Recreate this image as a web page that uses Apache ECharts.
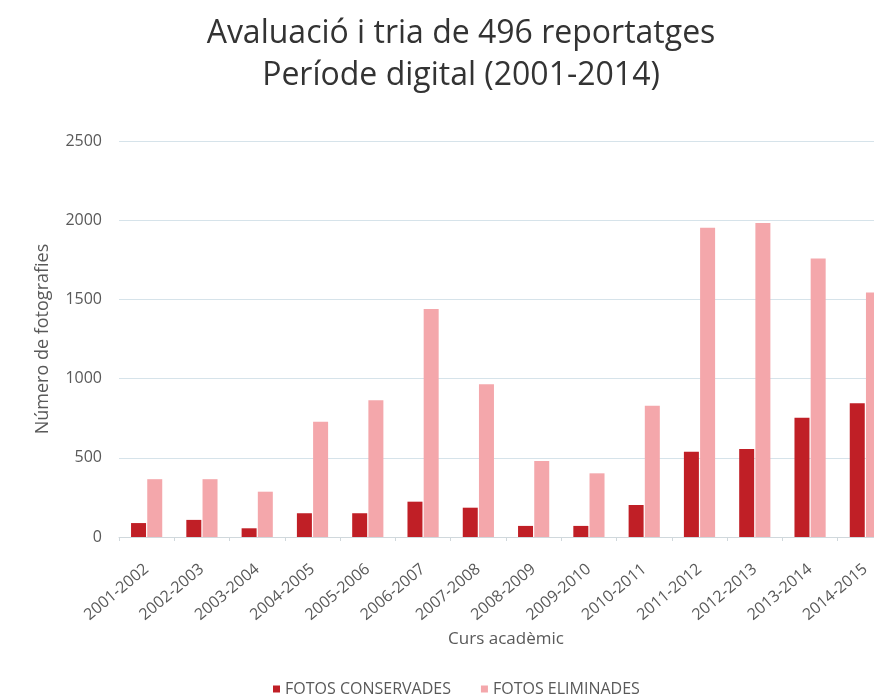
<!DOCTYPE html>
<html>
<head>
<meta charset="utf-8">
<title>Avaluació i tria de 496 reportatges</title>
<script src="https://cdn.jsdelivr.net/npm/echarts@6/dist/echarts.min.js"></script>
<style>
  html, body { margin: 0; padding: 0; background: #fff; width: 874px; height: 699px; overflow: hidden; }
  /* el gràfic original continua una mica per la dreta: el contenidor és més ample i es retalla */
  #chart { width: 894px; height: 699px; }
</style>
</head>
<body>
<div id="chart"></div>
<script>
// curs acadèmic
var cursos = ['2001-2002', '2002-2003', '2003-2004', '2004-2005', '2005-2006', '2006-2007', '2007-2008',
  '2008-2009', '2009-2010', '2010-2011', '2011-2012', '2012-2013', '2013-2014', '2014-2015']
// valors llegits del gràfic
var fotosConservades = [88, 108, 55, 150, 150, 223, 185, 70, 70, 202, 538, 555, 753, 844]
var fotosEliminades = [365, 365, 286, 728, 864, 1439, 965, 480, 402, 829, 1952, 1983, 1758, 1544]
var yTicks = { min: 0, max: 2500, interval: 500 }

var chart = echarts.init(document.getElementById('chart'))
var grayText = '#595959'

var option = {
  backgroundColor: '#fff',
  animation: false,
  textStyle: { fontFamily: 'Open Sans' },
  title: {
    text: 'Avaluació i tria de 496 reportatges\nPeríode digital (2001-2014)',
    left: 456,
    top: 8,
    textAlign: 'center',
    textStyle: {
      fontFamily: 'Open Sans',
      fontSize: 32,
      fontWeight: 'normal',
      color: '#333',
      lineHeight: 42
    }
  },
  legend: {
    left: 268,
    top: 676,
    itemWidth: 7,
    itemHeight: 7,
    itemGap: 30,
    icon: 'rect',
    textStyle: { fontSize: 16, color: grayText },
    data: ['FOTOS CONSERVADES', 'FOTOS ELIMINADES']
  },
  grid: {
    left: 119,
    top: 141,
    right: 1,
    height: 396,
    containLabel: false
  },
  xAxis: {
    type: 'category',
    data: cursos,
    name: 'Curs acadèmic',
    nameLocation: 'middle',
    nameGap: 93,
    nameTextStyle: { fontSize: 17, color: grayText },
    axisLine: { lineStyle: { color: '#d0d8dc' } },
    axisTick: { show: true, length: 4, lineStyle: { color: '#d0d8dc' } },
    axisLabel: {
      rotate: 40,
      margin: 30,
      fontSize: 16,
      color: grayText,
      interval: 0
    }
  },
  yAxis: {
    type: 'value',
    min: yTicks.min,
    max: yTicks.max,
    interval: yTicks.interval,
    name: 'Número de fotografies',
    nameLocation: 'middle',
    nameGap: 67,
    nameTextStyle: { fontSize: 18, color: grayText },
    axisLine: { show: false },
    axisTick: { show: false },
    axisLabel: {
      fontSize: 16,
      color: grayText,
      margin: 17,
      formatter: function (v) { return String(v) }
    },
    splitLine: { lineStyle: { color: '#d6e3ea', width: 1 } }
  },
  series: [
    {
      name: 'FOTOS CONSERVADES',
      type: 'bar',
      data: fotosConservades,
      barWidth: 15,
      barGap: '8%',
      itemStyle: { color: '#c01f26' }
    },
    {
      name: 'FOTOS ELIMINADES',
      type: 'bar',
      data: fotosEliminades,
      barWidth: 15,
      itemStyle: { color: '#f4a7ab' }
    }
  ]
}

chart.setOption(option)
</script>
</body>
</html>
